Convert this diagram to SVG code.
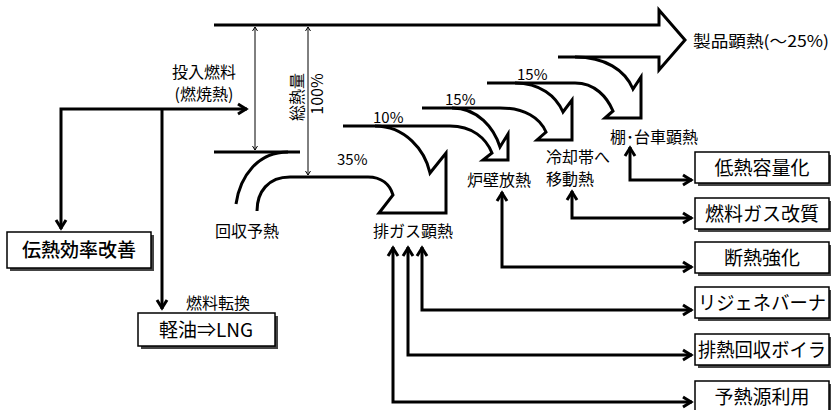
<svg xmlns="http://www.w3.org/2000/svg" width="831" height="410" viewBox="0 0 831 410">
<defs>
<style>
.ln{fill:none;stroke:#000;stroke-width:3;stroke-linejoin:miter;stroke-miterlimit:10}
.cn{fill:none;stroke:#000;stroke-width:3;stroke-linejoin:miter}
.thin{fill:none;stroke:#000;stroke-width:1}
.t{font-family:"Noto Sans CJK JP","Noto Sans",sans-serif;fill:#000;font-size:16px}
.bt{font-family:"Noto Sans CJK JP","Noto Sans",sans-serif;fill:#000;font-size:19px;text-anchor:middle}
.pc{font-family:"Noto Sans CJK JP","Noto Sans",sans-serif;fill:#000;font-size:15px}
.box{fill:#fff;stroke:#000;stroke-width:1.5}
.sh{fill:#444}
</style>
<marker id="ah" markerUnits="userSpaceOnUse" viewBox="-12 -8 16 16" refX="1" refY="0" markerWidth="16" markerHeight="16" orient="auto-start-reverse">
<path d="M-8,-5 L0,0 L-8,5" fill="none" stroke="#000" stroke-width="3"/>
</marker>
<marker id="sm" markerUnits="userSpaceOnUse" viewBox="-6 -4 8 8" refX="0" refY="0" markerWidth="8" markerHeight="8" orient="auto-start-reverse">
<path d="M-4,-2.5 L0,0 L-4,2.5" fill="none" stroke="#000" stroke-width="1"/>
</marker>
</defs>
<rect width="831" height="410" fill="#fff"/>

<g id="flow">
<path class="ln" d="M214,25 L659,25 L659,10 L685,40 L659,70 L659,57 L558,57"/>
<path class="ln" d="M575,57 C605,57 625,70 633,89 L641,77 L641,118 L605,118 L613,111 C607,97 595,83 575,83 L487,83"/>
<path class="ln" d="M515,83 C540,83 556,96 563,112 L572,100 L572,140 L537,140 L546,132 C540,118 525,108 500,108 L422,108"/>
<path class="ln" d="M452,108 C478,108 494,128 500,147 L508,134 L508,160 L483,160 L492,153 C486,138 472,126 450,126 L343,126"/>
<path class="ln" d="M375,126 C405,126 425,150 430,173 L446,153 L446,213 L379,213 L393,195 C390,185 382,177 368,177 L290,177 C268,177 257,192 257,211"/>
<path class="ln" d="M214,152 L300,152"/>
<path class="ln" d="M288,152 C258,152 240,176 236,204"/>
<path class="thin" d="M255,27 L255,150" marker-start="url(#sm)" marker-end="url(#sm)"/>
<path class="thin" d="M308,27 L308,175" marker-start="url(#sm)" marker-end="url(#sm)"/>
</g>

<g id="connectors">
<path class="cn" d="M61,229 L61,109 L247,109" marker-start="url(#ah)" marker-end="url(#ah)"/>
<path class="cn" d="M162,109 L162,309" marker-end="url(#ah)"/>
<path class="cn" d="M630,147 L630,180 L692,180" marker-start="url(#ah)" marker-end="url(#ah)"/>
<path class="cn" d="M572,191 L572,218 L692,218" marker-start="url(#ah)" marker-end="url(#ah)"/>
<path class="cn" d="M502,192 L502,267 L692,267" marker-start="url(#ah)" marker-end="url(#ah)"/>
<path class="cn" d="M422,247 L422,310 L692,310" marker-start="url(#ah)" marker-end="url(#ah)"/>
<path class="cn" d="M408,247 L408,355 L692,355" marker-start="url(#ah)" marker-end="url(#ah)"/>
<path class="cn" d="M393,247 L393,402 L692,402" marker-start="url(#ah)" marker-end="url(#ah)"/>
</g>

<g id="labels">
<text class="t" x="204" y="78" text-anchor="middle" font-size="15">投入燃料</text>
<text class="t" x="204" y="100" text-anchor="middle" font-size="15">(燃焼熱)</text>
<text class="t" transform="translate(303,97) rotate(-90)" text-anchor="middle">総熱量</text>
<text class="t" transform="translate(323,94) rotate(-90)" text-anchor="middle">100%</text>
<text class="pc" x="373" y="123">10%</text>
<text class="pc" x="337" y="165">35%</text>
<text class="pc" x="445" y="105">15%</text>
<text class="pc" x="517" y="80">15%</text>
<text class="t" x="693" y="47" font-size="17" textLength="136" lengthAdjust="spacingAndGlyphs">製品顕熱(～25%)</text>
<text class="t" x="610" y="143">棚･台車顕熱</text>
<text class="t" x="546" y="163">冷却帯へ</text>
<text class="t" x="546" y="185">移動熱</text>
<text class="t" x="499" y="186" text-anchor="middle">炉壁放熱</text>
<text class="t" x="413" y="237" text-anchor="middle">排ガス顕熱</text>
<text class="t" x="247" y="237" text-anchor="middle">回収予熱</text>
<text class="t" x="218" y="309" text-anchor="middle" font-size="18">燃料転換</text>
</g>

<g id="node-dennetsu">
<rect class="sh" x="10" y="235" width="144" height="36"/>
<rect class="box" x="7" y="232" width="144" height="36"/>
<text class="bt" x="79" y="257" font-size="20" font-weight="500">伝熱効率改善</text>
</g>
<g id="node-lng">
<rect class="sh" x="141" y="316" width="137" height="33"/>
<rect class="box" x="138" y="313" width="137" height="33"/>
<text class="bt" x="206" y="337">軽油⇒LNG</text>
</g>
<g id="node-teinetsu">
<rect class="sh" x="698" y="155" width="134" height="31"/>
<rect class="box" x="695" y="152" width="134" height="31"/>
<text class="bt" x="762" y="175">低熱容量化</text>
</g>
<g id="node-kaishitsu">
<rect class="sh" x="698" y="201" width="134" height="31"/>
<rect class="box" x="695" y="198" width="134" height="31"/>
<text class="bt" x="762" y="221">燃料ガス改質</text>
</g>
<g id="node-dannetsu">
<rect class="sh" x="698" y="245" width="134" height="31"/>
<rect class="box" x="695" y="242" width="134" height="31"/>
<text class="bt" x="762" y="265">断熱強化</text>
</g>
<g id="node-regene">
<rect class="sh" x="698" y="290" width="134" height="31"/>
<rect class="box" x="695" y="287" width="134" height="31"/>
<text class="bt" x="762" y="310" textLength="128" lengthAdjust="spacingAndGlyphs">リジェネバーナ</text>
</g>
<g id="node-boiler">
<rect class="sh" x="698" y="337" width="134" height="31"/>
<rect class="box" x="695" y="334" width="134" height="31"/>
<text class="bt" x="762" y="357" textLength="128" lengthAdjust="spacingAndGlyphs">排熱回収ボイラ</text>
</g>
<g id="node-yonetsu">
<rect class="sh" x="698" y="384" width="134" height="31"/>
<rect class="box" x="695" y="381" width="134" height="31"/>
<text class="bt" x="762" y="404">予熱源利用</text>
</g>
</svg>
